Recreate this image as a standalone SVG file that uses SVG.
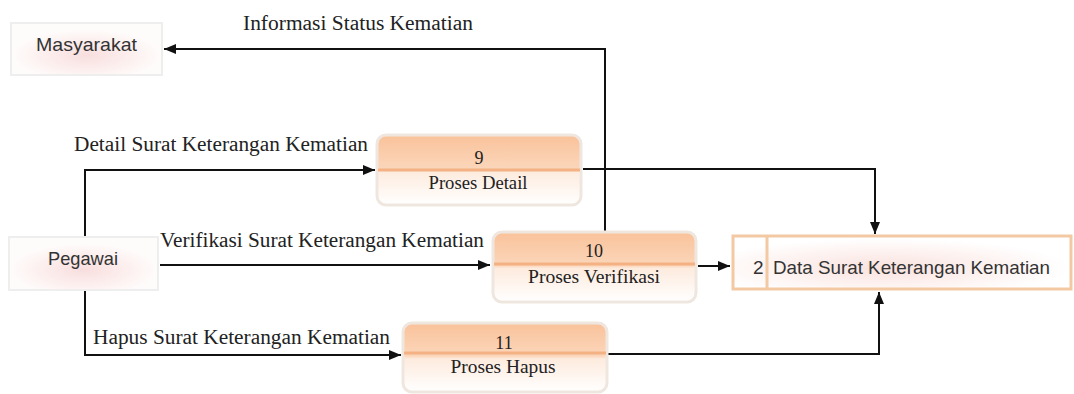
<svg xmlns="http://www.w3.org/2000/svg" width="1074" height="394" viewBox="0 0 1074 394">
<defs>
<style>
.ser{font-family:"Liberation Serif","Times New Roman",serif;fill:#222;}
.san{font-family:"Liberation Sans",Arial,sans-serif;fill:#333;}
.lbl{font-size:20px;}
.pt{font-size:18px;text-anchor:middle;}
.ent{fill:url(#entGlow);stroke:#eeeeee;stroke-width:2;}
.proc{stroke:#efe7df;stroke-width:3;}
.div{stroke:#f4b183;stroke-width:3;}
.con{fill:none;stroke:#111;stroke-width:2;}
</style>
<radialGradient id="entGlow" cx="0.5" cy="0.62" r="0.5">
<stop offset="0" stop-color="#f8dede"/>
<stop offset="0.6" stop-color="#fcf0ef"/>
<stop offset="1" stop-color="#fefcfb"/>
</radialGradient>
<radialGradient id="dsGlow" cx="0.45" cy="0.6" r="0.55">
<stop offset="0" stop-color="#f9e2df"/>
<stop offset="0.6" stop-color="#fdf3f1"/>
<stop offset="1" stop-color="#ffffff"/>
</radialGradient>
<linearGradient id="procGrad" x1="0" y1="0" x2="0" y2="1">
<stop offset="0" stop-color="#f9c29a"/>
<stop offset="0.48" stop-color="#fbd6ba"/>
<stop offset="0.52" stop-color="#fdebde"/>
<stop offset="1" stop-color="#ffffff"/>
</linearGradient>
<marker id="arr" viewBox="0 0 12 10" refX="12" refY="5" markerWidth="12" markerHeight="10" markerUnits="userSpaceOnUse" orient="auto">
<path d="M0,0 L12,5 L0,10 z" fill="#111"/>
</marker>
</defs>

<g id="connectors">
<polyline class="con" points="605,232 605,49 164,49" marker-end="url(#arr)"/>
<polyline class="con" points="85,236 85,170 375,170" marker-end="url(#arr)"/>
<polyline class="con" points="160,265 490,265" marker-end="url(#arr)"/>
<polyline class="con" points="85,291 85,355 401,355" marker-end="url(#arr)"/>
<polyline class="con" points="583,169 875,169 875,234" marker-end="url(#arr)"/>
<polyline class="con" points="698,266 730,266" marker-end="url(#arr)"/>
<polyline class="con" points="608,354 879,354 879,292" marker-end="url(#arr)"/>
<text class="ser lbl" x="243" y="30" textLength="230" lengthAdjust="spacingAndGlyphs">Informasi Status Kematian</text>
<text class="ser lbl" x="74" y="151" textLength="294" lengthAdjust="spacingAndGlyphs">Detail Surat Keterangan Kematian</text>
<text class="ser lbl" x="160" y="247" textLength="324" lengthAdjust="spacingAndGlyphs">Verifikasi Surat Keterangan Kematian</text>
<text class="ser lbl" x="93" y="344" textLength="297" lengthAdjust="spacingAndGlyphs">Hapus Surat Keterangan Kematian</text>
</g>

<g id="masyarakat">
<rect class="ent" x="11" y="23" width="151" height="52"/>
<text class="san" x="36" y="51" font-size="19" textLength="101" lengthAdjust="spacingAndGlyphs">Masyarakat</text>
</g>

<g id="pegawai">
<rect class="ent" x="9" y="237" width="149" height="53"/>
<text class="san" x="48" y="265" font-size="19" textLength="70" lengthAdjust="spacingAndGlyphs">Pegawai</text>
</g>

<g id="proses-detail">
<rect class="proc" x="377" y="135" width="204" height="70" rx="9" fill="url(#procGrad)"/>
<line class="div" x1="378" y1="170" x2="580" y2="170"/>
<text class="ser pt" x="479" y="164">9</text>
<text class="ser pt" x="478" y="189" textLength="99" lengthAdjust="spacingAndGlyphs">Proses Detail</text>
</g>

<g id="proses-verifikasi">
<rect class="proc" x="493" y="232" width="203" height="70" rx="9" fill="url(#procGrad)"/>
<line class="div" x1="494" y1="264" x2="695" y2="264"/>
<text class="ser pt" x="594" y="257">10</text>
<text class="ser pt" x="594" y="283" textLength="132" lengthAdjust="spacingAndGlyphs">Proses Verifikasi</text>
</g>

<g id="proses-hapus">
<rect class="proc" x="403" y="323" width="204" height="69" rx="9" fill="url(#procGrad)"/>
<line class="div" x1="404" y1="353" x2="606" y2="353"/>
<text class="ser pt" x="504" y="349">11</text>
<text class="ser pt" x="503" y="373" textLength="105" lengthAdjust="spacingAndGlyphs">Proses Hapus</text>
</g>

<g id="data-store">
<rect x="733" y="236" width="338" height="53" fill="url(#dsGlow)" stroke="#f2c9a2" stroke-width="3"/>
<line x1="767" y1="236" x2="767" y2="289" stroke="#f2c9a2" stroke-width="3"/>
<text class="san" x="753" y="274" font-size="19">2</text>
<text class="san" x="773" y="274" font-size="19" textLength="277" lengthAdjust="spacingAndGlyphs">Data Surat Keterangan Kematian</text>
</g>
</svg>
